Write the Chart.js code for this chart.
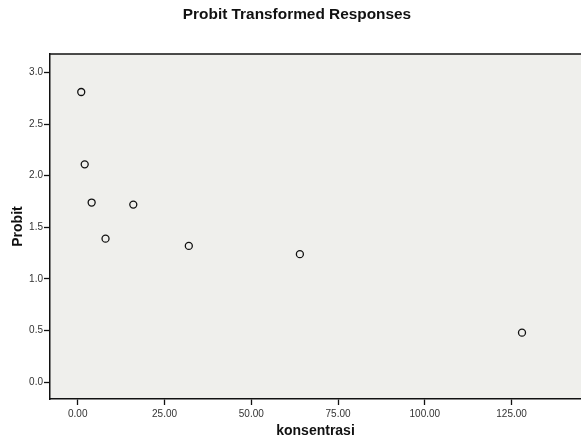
<html lang="id">
<head>
  <meta charset="utf-8">
  <script src="https://cdn.jsdelivr.net/npm/chart.js"></script>
  <style>
    html, body { margin: 0; padding: 0; background: #ffffff; overflow: hidden; }
    #wrap { width: 581px; height: 441px; position: relative; }
    canvas { display: block; }
  </style>
</head>
<body>
  <div id="wrap">
    <canvas id="grafikProbit"></canvas>
  </div>

  <script>
    // data
    const konsentrasi = [1, 2, 4, 8, 16, 32, 64, 128];
    const probit = [2.81, 2.11, 1.74, 1.39, 1.72, 1.32, 1.24, 0.48];
    const xTicks = [0, 25, 50, 75, 100, 125];
    const yTicks = [0, 0.5, 1.0, 1.5, 2.0, 2.5, 3.0];

    const titre = 'Probit Transformed Responses';

    // grey plot area + top border + title
    const fondPlot = {
      id: 'fondPlot',
      beforeDraw(chart) {
        const a = chart.chartArea;
        const ctx = chart.ctx;
        ctx.save();
        ctx.fillStyle = '#efefec';
        ctx.fillRect(a.left, a.top, a.right - a.left, a.bottom - a.top);
        ctx.restore();
      },
      afterDraw(chart) {
        const a = chart.chartArea;
        const ctx = chart.ctx;
        ctx.save();
        ctx.strokeStyle = '#111111';
        ctx.lineWidth = 1.5;
        ctx.beginPath();
        ctx.moveTo(a.left, a.top);
        ctx.lineTo(a.right, a.top);
        ctx.stroke();
        ctx.fillStyle = '#111111';
        ctx.font = 'bold 15.4px "Liberation Sans", Arial, sans-serif';
        ctx.textAlign = 'center';
        ctx.textBaseline = 'middle';
        ctx.fillText(titre, 297, 15);
        ctx.restore();
      }
    };

    const data = konsentrasi.map((k, i) => ({ x: k, y: probit[i] }));

    new Chart(document.getElementById('grafikProbit'), {
      type: 'scatter',
      data: {
        datasets: [{
          label: 'Probit',
          data: data,
          backgroundColor: 'transparent',
          borderColor: '#111111',
          borderWidth: 1.3,
          pointRadius: 3.5,
          pointHoverRadius: 3.5
        }]
      },
      options: {
        responsive: true,
        maintainAspectRatio: false,
        animation: false,
        layout: { autoPadding: false, padding: { top: 54, right: 0, left: 0, bottom: 0 } },
        plugins: {
          legend: { display: false },
          tooltip: { enabled: false }
        },
        scales: {
          x: {
            type: 'linear',
            min: -8,
            max: 145,
            afterFit(scale) { scale.height = 42; scale.paddingRight = 0; },
            afterBuildTicks(scale) { scale.ticks = xTicks.map(v => ({ value: v })); },
            border: { display: true, color: '#111111', width: 1.5 },
            grid: { drawOnChartArea: false, drawTicks: true, tickLength: 6, color: '#111111', tickWidth: 1.3 },
            ticks: {
              color: '#333333',
              padding: 3,
              maxRotation: 0,
              font: { family: '"Liberation Sans", Arial, sans-serif', size: 10 },
              callback: v => v.toFixed(2)
            },
            title: {
              display: true,
              text: 'konsentrasi',
              color: '#111111',
              padding: { top: 0, bottom: 1 },
              font: { family: '"Liberation Sans", Arial, sans-serif', size: 14, weight: 'bold' }
            }
          },
          y: {
            type: 'linear',
            min: -0.162,
            max: 3.178,
            afterFit(scale) { scale.width = 50; },
            afterBuildTicks(scale) { scale.ticks = yTicks.map(v => ({ value: v })); },
            border: { display: true, color: '#111111', width: 1.5 },
            grid: { drawOnChartArea: false, drawTicks: true, tickLength: 6, color: '#111111', tickWidth: 1.3 },
            ticks: {
              color: '#333333',
              padding: 1,
              font: { family: '"Liberation Sans", Arial, sans-serif', size: 10 },
              callback: v => v.toFixed(1)
            },
            title: {
              display: true,
              text: 'Probit',
              color: '#111111',
              padding: { top: 10, bottom: 0 },
              font: { family: '"Liberation Sans", Arial, sans-serif', size: 14, weight: 'bold' }
            }
          }
        }
      },
      plugins: [fondPlot]
    });
  </script>
</body>
</html>
